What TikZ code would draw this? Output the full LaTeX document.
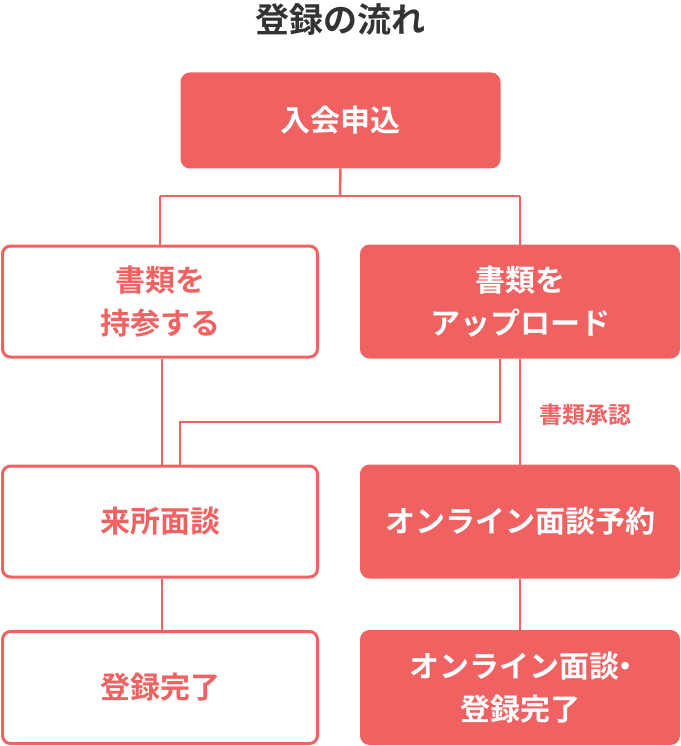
\documentclass[tikz,border=0pt]{standalone}
\usepackage{fontspec}
\newfontfamily\jp{Noto Sans CJK JP Bold}
\definecolor{cred}{HTML}{F06262}
\definecolor{ctitle}{HTML}{333333}
\tikzset{
  box/.style={rectangle, rounded corners=8pt, line width=3pt, draw=cred, minimum width=315pt, align=center, font=\jp\fontsize{30}{43}\selectfont, inner sep=0pt},
  filledbox/.style={box, fill=cred, text=white},
  whitebox/.style={box, fill=white, text=cred},
  conn/.style={draw=cred, line width=2.5pt},
}
\begin{document}
\begin{tikzpicture}[x=1pt, y=-1pt]
\useasboundingbox (0,0) rectangle (680,746);
\node[font=\jp\fontsize{34}{34}\selectfont, text=ctitle] (title) at (340,20) {登録の流れ};
\node[filledbox, minimum width=317pt, minimum height=93pt] (top) at (340.5,120.5) {入会申込};
\node[whitebox, minimum height=111pt] (l1) at (160,301.5) {書類を\\持参する};
\node[filledbox, minimum width=317pt, minimum height=111pt] (r1) at (520,301.5) {書類を\\アップロード};
\node[whitebox, minimum height=111pt] (l2) at (160,521.5) {来所面談};
\node[filledbox, minimum width=317pt, minimum height=111pt] (r2) at (520,521.5) {オンライン面談予約};
\node[whitebox, minimum height=112pt] (l3) at (160,687.5) {登録完了};
\node[filledbox, minimum width=317pt, minimum height=112pt] (r3) at (520,687.5) {オンライン面談\kern-0.3em・\kern-0.3em\\登録完了};
\node[font=\jp\fontsize{23}{23}\selectfont, text=cred] (lbl) at (585,415) {書類承認};
\coordinate (jt) at (340,196);
\draw[conn] (top.south) -- (jt);
\draw[conn] (jt -| l1.north) -- (jt -| r1.north);
\draw[conn] (jt -| l1.north) -- (l1.north);
\draw[conn] (jt -| r1.north) -- (r1.north);
\coordinate (ja) at (500,422);
\coordinate (jb) at (180,422);
\draw[conn] (ja |- r1.south) -- (ja) -- (jb) -- (jb |- l2.north);
\draw[conn] (l1.south -| 162,0) -- (l2.north -| 162,0);
\draw[conn] (r1.south) -- (r2.north);
\draw[conn] (l2.south -| 162,0) -- (l3.north -| 162,0);
\draw[conn] (r2.south) -- (r3.north);
\end{tikzpicture}
\end{document}
